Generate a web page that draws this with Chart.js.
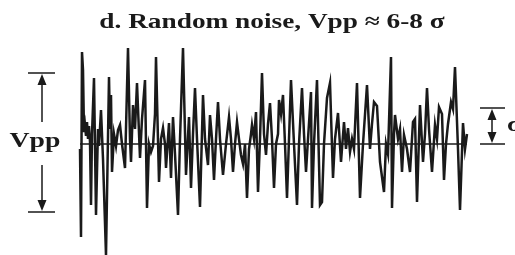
<!DOCTYPE html>
<html>
<head>
<meta charset="utf-8">
<script src="https://cdn.jsdelivr.net/npm/chart.js@4/dist/chart.umd.min.js"></script>
<style>
  body { margin: 0; background: #fff; }
  #wrap { width: 515px; height: 255px; }
</style>
</head>
<body>
<div id="wrap"><canvas id="noise"></canvas></div>
<script>
// time (samples) and noise value (mV)
const times = [0,1,2,3,4,5,6,7,8,9,10,11,12,14,16,18,19,21,23,26,29,30,31,32,34,36,38,40,42,45,48,50,51,53,55,57,60,62,65,67,69,71,73,75,76,79,81,83,85,86,89,91,93,95,98,100,103,106,109,111,113,115,117,120,123,125,128,130,132,134,136,138,140,143,146,149,151,153,155,157,159,161,163,165,167,169,171,172,174,176,178,180,182,184,186,188,190,192,194,196,198,199,201,203,205,207,209,211,214,217,219,222,224,226,228,231,232,234,237,240,242,244,247,250,253,255,258,261,264,266,268,270,272,274,277,280,283,287,290,292,294,297,300,304,306,308,311,312,314,315,318,320,322,324,327,330,333,335,337,340,343,345,347,349,352,355,357,359,362,364,366,368,371,373,375,378,380,383,385,387];
const noise = [-5,-93,92,74,12,19,8,22,5,18,2,-61,10,66,-71,15,-2,34,-15,-111,67,15,49,-28,10,-2,14,19,0,-24,96,5,-18,39,15,61,-14,25,64,-64,0,-8,-2,30,87,-38,5,16,0,-24,21,-34,27,-10,-71,5,96,-31,27,-44,10,56,5,-63,49,5,-21,29,5,-36,5,42,5,-31,0,27,5,-28,0,22,5,-11,-20,0,-54,-5,10,19,5,32,-48,5,71,10,-11,20,41,5,-44,0,10,44,30,49,0,-54,5,64,0,-61,0,56,10,-28,5,52,-64,0,64,-61,-58,0,46,61,-34,5,31,-18,22,-5,16,-8,5,-5,61,-54,0,59,-5,20,42,38,-18,-48,0,-10,87,-64,10,29,5,15,-28,9,-5,-28,22,25,-58,39,-18,10,56,15,-28,19,5,37,30,-36,0,20,42,35,77,-5,-66,21,-5,10];
const baseline = [0, 387];
const sigma = 36;        // one standard deviation, mV
const vppHigh = 71;      // Vpp bracket top, mV
const vppLow = -68;      // Vpp bracket bottom, mV
const titleText = 'd. Random noise, Vpp \u2248 6-8 \u03c3';

const points = times.map((t, i) => ({ x: t, y: noise[i] }));

function arrowHead(ctx, x, y, dir) {
  // dir = -1 points up, 1 points down
  ctx.beginPath();
  ctx.moveTo(x, y);
  ctx.lineTo(x - 4.5, y - dir * 11);
  ctx.lineTo(x + 4.5, y - dir * 11);
  ctx.closePath();
  ctx.fill();
}

// title, Vpp bracket and sigma bracket
const marks = {
  id: 'marks',
  afterDatasetsDraw(chart) {
    const ctx = chart.ctx;
    const xs = chart.scales.x;
    const ys = chart.scales.y;
    ctx.save();
    ctx.fillStyle = '#1a1a1a';
    ctx.strokeStyle = '#1a1a1a';

    // title
    ctx.save();
    ctx.translate(272, 28);
    ctx.scale(1.3, 1);
    ctx.font = 'bold 21px "Liberation Serif", serif';
    ctx.textAlign = 'center';
    ctx.textBaseline = 'alphabetic';
    ctx.fillText(titleText, 0, 0);
    ctx.restore();

    // Vpp bracket
    const vx = xs.getPixelForValue(-38);
    const vTop = ys.getPixelForValue(vppHigh);
    const vBot = ys.getPixelForValue(vppLow);
    const vMid = ys.getPixelForValue(4);
    ctx.lineWidth = 1.5;
    ctx.beginPath();
    ctx.moveTo(xs.getPixelForValue(-52), vTop);
    ctx.lineTo(xs.getPixelForValue(-25), vTop);
    ctx.moveTo(xs.getPixelForValue(-52), vBot);
    ctx.lineTo(xs.getPixelForValue(-25), vBot);
    ctx.moveTo(vx, vMid - 18);
    ctx.lineTo(vx, vTop + 8);
    ctx.moveTo(vx, vMid + 25);
    ctx.lineTo(vx, vBot - 8);
    ctx.stroke();
    arrowHead(ctx, vx, vTop + 1, -1);
    arrowHead(ctx, vx, vBot - 1, 1);
    ctx.save();
    ctx.translate(xs.getPixelForValue(-45), vMid + 2);
    ctx.scale(1.32, 1);
    ctx.font = 'bold 21px "Liberation Serif", serif';
    ctx.textAlign = 'center';
    ctx.textBaseline = 'middle';
    ctx.fillText('Vpp', 0, 0);
    ctx.restore();

    // sigma bracket
    const sx = xs.getPixelForValue(412);
    const sTop = ys.getPixelForValue(sigma);
    const sBot = ys.getPixelForValue(0);
    ctx.beginPath();
    ctx.moveTo(xs.getPixelForValue(400), sTop);
    ctx.lineTo(xs.getPixelForValue(425), sTop);
    ctx.moveTo(xs.getPixelForValue(400), sBot);
    ctx.lineTo(xs.getPixelForValue(425), sBot);
    ctx.moveTo(sx, sTop + 6);
    ctx.lineTo(sx, sBot - 6);
    ctx.stroke();
    arrowHead(ctx, sx, sTop + 1, -1);
    arrowHead(ctx, sx, sBot - 1, 1);
    ctx.save();
    ctx.translate(xs.getPixelForValue(427), ys.getPixelForValue(sigma / 2));
    ctx.scale(1.3, 1);
    ctx.font = 'bold 20px "Liberation Serif", serif';
    ctx.textAlign = 'left';
    ctx.textBaseline = 'middle';
    ctx.fillText('\u03c3', 0, 0);
    ctx.restore();

    ctx.restore();
  }
};

new Chart(document.getElementById('noise'), {
  type: 'line',
  data: {
    datasets: [{
      data: points,
      borderColor: '#1a1a1a',
      borderWidth: 2.5,
      pointRadius: 0,
      tension: 0
    }, {
      data: baseline.map(t => ({ x: t, y: 0 })),
      borderColor: '#1a1a1a',
      borderWidth: 1.5,
      pointRadius: 0
    }]
  },
  options: {
    responsive: true,
    maintainAspectRatio: false,
    animation: false,
    layout: { padding: 0 },
    plugins: { legend: { display: false }, title: { display: false }, tooltip: { enabled: false } },
    scales: {
      x: { type: 'linear', min: -80, max: 435, display: false },
      y: { min: -111, max: 144, display: false }
    }
  },
  plugins: [marks]
});
</script>
</body>
</html>
